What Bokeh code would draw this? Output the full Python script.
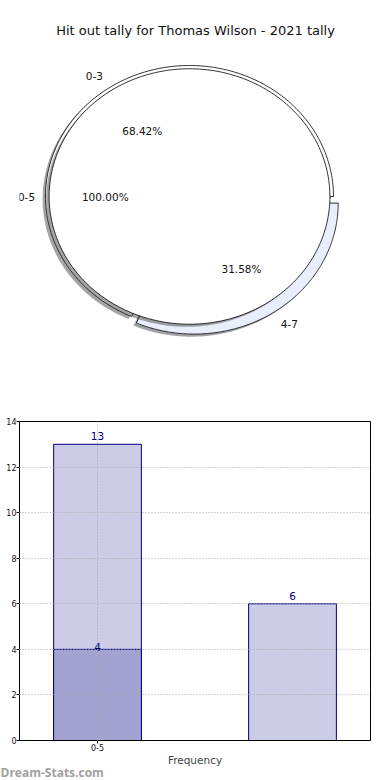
import numpy as np
from bokeh.plotting import figure
from bokeh.models import Range1d, Label, FixedTicker, Title
from bokeh.layouts import column
from bokeh.embed import file_html
from bokeh.resources import INLINE
from bokeh.core.properties import value

# ---------------- data ----------------
title_text = "Hit out tally for Thomas Wilson - 2021 tally"

outer_labels = ["0-3", "4-7"]
outer_values = [13, 6]
outer_colors = ["#ffffff", "#e8eefb"]
outer_explode = [0.0, 0.06]

inner_labels = ["0-5"]
inner_values = [19]
inner_colors = ["#ffffff"]
inner_explode = [0.0]

bar_positions = [0, 1]
bar_totals = [13, 6]
bar_inner_positions = [0]
bar_inner_values = [4]
x_tick_labels = {0: "0-5"}
y_ticks = [0, 2, 4, 6, 8, 10, 12, 14]
x_label = "Frequency"
watermark = "Dream-Stats.com"

FONT = "DejaVu Sans"

# ---------------- layout constants ----------------
W = 390
H1 = 400
H2 = 380
B_LEFT, B_RIGHT = 19, 20       # shared frame borders (column aligns frames)
FW = W - B_LEFT - B_RIGHT

# ---------------- pie ----------------
rx, ry = 144.0, 131.0          # px per unit
cx_pg, cy_pg = 189.0, 196.0    # pie centre in page px
x0 = -(cx_pg - B_LEFT) / rx
y0 = -(H1 - cy_pg) / ry
pie = figure(width=W, height=H1, x_range=Range1d(x0, x0 + FW / rx),
             y_range=Range1d(y0, y0 + H1 / ry), output_backend="svg",
             toolbar_location=None, min_border_top=0, min_border_bottom=0,
             min_border_left=B_LEFT, min_border_right=B_RIGHT,
             x_axis_type=None, y_axis_type=None)
pie.grid.visible = False
pie.outline_line_color = None


def make_wedges(values, radius, explode, start=0.0):
    total = float(sum(values))
    out = []
    a = start
    for v, e in zip(values, explode):
        span = 360.0 * v / total
        a0, a1 = a, a + span
        mid = np.deg2rad((a0 + a1) / 2.0)
        cx, cy = e * np.cos(mid), e * np.sin(mid)
        th = np.deg2rad(np.linspace(a0, a1, 240))
        xs = cx + radius * np.cos(th)
        ys = cy + radius * np.sin(th)
        if span < 359.9:
            xs = np.concatenate([[cx], xs, [cx]])
            ys = np.concatenate([[cy], ys, [cy]])
        out.append(dict(xs=xs, ys=ys, mid=mid, cx=cx, cy=cy, frac=v / total))
        a = a1
    return out


def shade(c):
    c = c.lstrip("#")
    r, g, b = (int(c[i:i + 2], 16) for i in (0, 2, 4))
    return "#%02x%02x%02x" % (int(r * 0.3), int(g * 0.3), int(b * 0.3))


def draw_pie(wedges, colors):
    for w, col in zip(wedges, colors):
        pie.patch(w["xs"] - 0.02, w["ys"] - 0.02, fill_color=shade(col),
                  fill_alpha=0.5, line_color=None)
    for w, col in zip(wedges, colors):
        pie.patch(w["xs"], w["ys"], fill_color=col, line_color="black",
                  line_width=0.8)


def draw_labels(wedges, labels, radius):
    lx, ly, la, px, py, pt = [], [], [], [], [], []
    for w, lab in zip(wedges, labels):
        c, s = np.cos(w["mid"]), np.sin(w["mid"])
        lx.append(w["cx"] + 1.1 * radius * c)
        ly.append(w["cy"] + 1.1 * radius * s)
        la.append("left" if c > 0 else "right")
        px.append(w["cx"] + 0.6 * radius * c)
        py.append(w["cy"] + 0.6 * radius * s)
        pt.append("%.2f%%" % (100 * w["frac"]))
    pie.text(x=lx, y=ly, text=labels, text_align=la, text_baseline="middle",
             text_font=value(FONT), text_font_size="10.5px", text_color="#111111")
    pie.text(x=px, y=py, text=pt, text_align="center", text_baseline="middle",
             text_font=value(FONT), text_font_size="10.5px", text_color="#111111")


outer = make_wedges(outer_values, 1.0, outer_explode)
inner = make_wedges(inner_values, 0.975, inner_explode)
draw_pie(outer, outer_colors)
draw_pie(inner, inner_colors)
draw_labels(outer, outer_labels, 1.0)
draw_labels(inner, inner_labels, 0.975)

pie.add_layout(Label(x=195 - B_LEFT, y=H1 - 30, x_units="screen", y_units="screen",
                     text=title_text, text_align="center", text_baseline="middle",
                     text_font=FONT, text_font_size="13px", text_color="#111111"))

# ---------------- bars ----------------
bar = figure(width=W, height=H2, x_range=Range1d(-0.4, 1.4), y_range=Range1d(0, 14),
             output_backend="svg", toolbar_location=None,
             min_border_top=21, min_border_bottom=40, min_border_left=B_LEFT,
             min_border_right=B_RIGHT)
bar.vbar(x=bar_positions, top=bar_totals, width=0.45, fill_color="#cccce6",
         line_color="#000080", line_width=1)
bar.vbar(x=bar_inner_positions, top=bar_inner_values, width=0.45,
         fill_color="#a3a3d1", line_color="#000080", line_width=1)
bar.text(x=bar_positions, y=bar_totals, text=[str(v) for v in bar_totals],
         text_align="center", text_baseline="bottom", y_offset=-4,
         text_font=value(FONT), text_font_size="10.5px", text_color="#000080")
bar.text(x=bar_inner_positions, y=bar_inner_values,
         text=[str(v) for v in bar_inner_values],
         text_align="center", text_baseline="bottom", y_offset=2,
         text_font=value(FONT), text_font_size="10.5px", text_color="#000080")

bar.xaxis.ticker = FixedTicker(ticks=list(x_tick_labels.keys()))
bar.xaxis.major_label_overrides = x_tick_labels
bar.yaxis.ticker = FixedTicker(ticks=y_ticks)
bar.xgrid.ticker = FixedTicker(ticks=list(x_tick_labels.keys()))
bar.ygrid.ticker = FixedTicker(ticks=y_ticks)
for g in (bar.xgrid, bar.ygrid):
    g.grid_line_color = "#a8a8a8"
    g.grid_line_dash = "1 2"
    g.grid_line_width = 1
    g.level = "annotation"
for ax in (bar.xaxis, bar.yaxis):
    ax.major_label_text_font = FONT
    ax.major_label_text_font_size = "8px"
    ax.major_label_text_color = "#111111"
    ax.major_tick_out = 3
    ax.major_tick_in = 0
    ax.minor_tick_out = 0
    ax.minor_tick_in = 0
    ax.major_label_standoff = 0
    ax.axis_line_color = "black"
bar.xaxis.axis_label = x_label
bar.xaxis.axis_label_text_font = FONT
bar.xaxis.axis_label_text_font_size = "10.5px"
bar.xaxis.axis_label_text_font_style = "normal"
bar.xaxis.axis_label_standoff = 0
bar.outline_line_color = "black"
bar.outline_line_alpha = 1.0

bar.add_layout(Title(text=watermark, align="left", offset=-B_LEFT,
                     text_font="Open Sans", text_font_size="12px",
                     text_font_style="bold", text_color="#a0a0a0",
                     standoff=-14), "below")

layout = column(pie, bar, spacing=0)
open("out.html", "w").write(file_html(layout, INLINE))
